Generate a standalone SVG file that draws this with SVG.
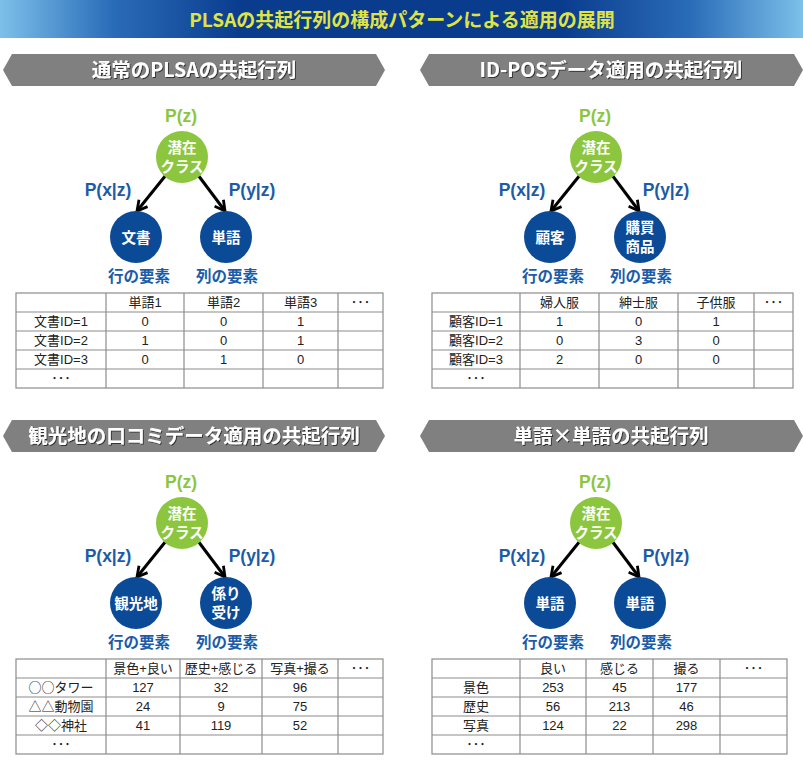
<svg xmlns="http://www.w3.org/2000/svg" width="803" height="762" viewBox="0 0 803 762">
<style>
.ttl{font-family:"Noto Sans CJK JP","Liberation Sans",sans-serif;font-weight:bold;font-size:19px;fill:#dfe345;text-anchor:middle;}
.hd{font-family:"Noto Sans CJK JP","Liberation Sans",sans-serif;font-weight:bold;font-size:19.5px;fill:#fff;text-anchor:middle;}
.hbar{fill:#808080;}
.pz{font-family:"Liberation Sans","Noto Sans CJK JP",sans-serif;font-weight:bold;font-size:17.5px;fill:#8cc63e;text-anchor:middle;}
.pc{font-family:"Liberation Sans","Noto Sans CJK JP",sans-serif;font-weight:bold;font-size:17.5px;fill:#1d5ba8;text-anchor:middle;}
.el{font-family:"Noto Sans CJK JP","Liberation Sans",sans-serif;font-weight:bold;font-size:15.5px;fill:#1d5ba8;text-anchor:middle;}
.nt{font-family:"Noto Sans CJK JP","Liberation Sans",sans-serif;font-weight:bold;font-size:14.5px;fill:#fff;text-anchor:middle;}
.gc{fill:#8cc63e;}
.bc{fill:#0b4a96;}
.cell{fill:#fff;stroke:#8c8c8c;stroke-width:1.2;}
.tx{font-family:"Liberation Sans","Noto Sans CJK JP",sans-serif;font-size:13px;fill:#222;text-anchor:middle;}
.tj{font-family:"Noto Sans CJK JP","Liberation Sans",sans-serif;font-size:13px;fill:#222;text-anchor:middle;}
.arr{stroke:#000;stroke-width:3;fill:none;marker-end:url(#ah);}
</style>
<defs>
<linearGradient id="tg" x1="0" y1="0" x2="1" y2="0">
<stop offset="0" stop-color="#7cc0ea"/>
<stop offset="0.14" stop-color="#2a6cb8"/>
<stop offset="0.3" stop-color="#0a3c8e"/>
<stop offset="0.7" stop-color="#0a3c8e"/>
<stop offset="0.86" stop-color="#2a6cb8"/>
<stop offset="1" stop-color="#7cc0ea"/>
</linearGradient>
<filter id="sh" x="-10%" y="-30%" width="120%" height="160%">
<feDropShadow dx="1" dy="1" stdDeviation="0.6" flood-color="#222" flood-opacity="0.8"/>
</filter>
<marker id="ah" viewBox="0 0 14 14" refX="12" refY="7" markerWidth="14" markerHeight="14" markerUnits="userSpaceOnUse" orient="auto">
<path d="M2,1.5 L12,7 L2,12.5" fill="none" stroke="#000" stroke-width="2.8" stroke-linejoin="miter"/>
</marker>
</defs>
<rect width="803" height="762" fill="#fff"/>

<g id="title">
<rect x="0" y="0" width="803" height="38" fill="url(#tg)"/>
<text class="ttl" x="402" y="27">PLSAの共起行列の構成パターンによる適用の展開</text>
</g>

<g id="headers">
<g id="hdr-tl"><polygon class="hbar" points="3,70 12,54 376,54 385,70 376,86 12,86"/><text class="hd" x="194" y="77" filter="url(#sh)">通常のPLSAの共起行列</text></g>
<g id="hdr-tr"><polygon class="hbar" points="420,70 429,54 794,54 803,70 794,86 429,86"/><text class="hd" x="611" y="77" filter="url(#sh)">ID-POSデータ適用の共起行列</text></g>
<g id="hdr-bl"><polygon class="hbar" points="3,436 12,420 376,420 385,436 376,452 12,452"/><text class="hd" x="194" y="443" filter="url(#sh)">観光地の口コミデータ適用の共起行列</text></g>
<g id="hdr-br"><polygon class="hbar" points="420,436 429,420 794,420 803,436 794,452 429,452"/><text class="hd" x="611" y="443" filter="url(#sh)">単語×単語の共起行列</text></g>
</g>

<g id="connectors">
<line class="arr" x1="166" y1="175" x2="137" y2="211"/>
<line class="arr" x1="198" y1="175" x2="225" y2="211"/>
<line class="arr" x1="580" y1="175" x2="551" y2="211"/>
<line class="arr" x1="612" y1="175" x2="639" y2="211"/>
<line class="arr" x1="166" y1="541" x2="137" y2="577"/>
<line class="arr" x1="198" y1="541" x2="225" y2="577"/>
<line class="arr" x1="580" y1="541" x2="551" y2="577"/>
<line class="arr" x1="612" y1="541" x2="639" y2="577"/>
</g>

<g id="tl-latent"><text class="pz" x="181" y="122">P(z)</text><circle class="gc" cx="182" cy="157" r="26"/><text class="nt" x="182" y="153">潜在</text><text class="nt" x="182" y="172">クラス</text></g>
<g id="tl-row"><circle class="bc" cx="136" cy="237" r="26"/><text class="nt" x="136" y="243">文書</text></g>
<g id="tl-col"><circle class="bc" cx="226" cy="237" r="26"/><text class="nt" x="226" y="243">単語</text></g>
<g id="tl-labels"><text class="pc" x="108" y="196">P(x|z)</text><text class="pc" x="252" y="196">P(y|z)</text><text class="el" x="139" y="282">行の要素</text><text class="el" x="227" y="282">列の要素</text></g>

<g id="tr-latent"><text class="pz" x="595" y="122">P(z)</text><circle class="gc" cx="596" cy="157" r="26"/><text class="nt" x="596" y="153">潜在</text><text class="nt" x="596" y="172">クラス</text></g>
<g id="tr-row"><circle class="bc" cx="550" cy="237" r="26"/><text class="nt" x="550" y="243">顧客</text></g>
<g id="tr-col"><circle class="bc" cx="640" cy="237" r="26"/><text class="nt" x="640" y="233">購買</text><text class="nt" x="640" y="252">商品</text></g>
<g id="tr-labels"><text class="pc" x="522" y="196">P(x|z)</text><text class="pc" x="666" y="196">P(y|z)</text><text class="el" x="553" y="282">行の要素</text><text class="el" x="641" y="282">列の要素</text></g>

<g id="bl-latent"><text class="pz" x="181" y="488">P(z)</text><circle class="gc" cx="182" cy="523" r="26"/><text class="nt" x="182" y="519">潜在</text><text class="nt" x="182" y="538">クラス</text></g>
<g id="bl-row"><circle class="bc" cx="136" cy="603" r="26"/><text class="nt" x="136" y="609">観光地</text></g>
<g id="bl-col"><circle class="bc" cx="226" cy="603" r="26"/><text class="nt" x="226" y="599">係り</text><text class="nt" x="226" y="618">受け</text></g>
<g id="bl-labels"><text class="pc" x="108" y="562">P(x|z)</text><text class="pc" x="252" y="562">P(y|z)</text><text class="el" x="139" y="648">行の要素</text><text class="el" x="227" y="648">列の要素</text></g>

<g id="br-latent"><text class="pz" x="595" y="488">P(z)</text><circle class="gc" cx="596" cy="523" r="26"/><text class="nt" x="596" y="519">潜在</text><text class="nt" x="596" y="538">クラス</text></g>
<g id="br-row"><circle class="bc" cx="550" cy="603" r="26"/><text class="nt" x="550" y="609">単語</text></g>
<g id="br-col"><circle class="bc" cx="640" cy="603" r="26"/><text class="nt" x="640" y="609">単語</text></g>
<g id="br-labels"><text class="pc" x="522" y="562">P(x|z)</text><text class="pc" x="666" y="562">P(y|z)</text><text class="el" x="553" y="648">行の要素</text><text class="el" x="641" y="648">列の要素</text></g>

<g id="table-tl">
<rect class="cell" x="16" y="293" width="367" height="95"/>
<g stroke="#8c8c8c" stroke-width="1.2">
<line x1="106" y1="293" x2="106" y2="388"/><line x1="184" y1="293" x2="184" y2="388"/><line x1="263" y1="293" x2="263" y2="388"/><line x1="338" y1="293" x2="338" y2="388"/>
<line x1="16" y1="312" x2="383" y2="312"/><line x1="16" y1="331" x2="383" y2="331"/><line x1="16" y1="350" x2="383" y2="350"/><line x1="16" y1="369" x2="383" y2="369"/>
</g>
<text class="tx" x="145" y="307">単語1</text><text class="tx" x="223.5" y="307">単語2</text><text class="tx" x="300.5" y="307">単語3</text><text class="tx" x="360.5" y="307">･･･</text>
<text class="tx" x="61" y="326">文書ID=1</text><text class="tx" x="145" y="326">0</text><text class="tx" x="223.5" y="326">0</text><text class="tx" x="300.5" y="326">1</text>
<text class="tx" x="61" y="345">文書ID=2</text><text class="tx" x="145" y="345">1</text><text class="tx" x="223.5" y="345">0</text><text class="tx" x="300.5" y="345">1</text>
<text class="tx" x="61" y="364">文書ID=3</text><text class="tx" x="145" y="364">0</text><text class="tx" x="223.5" y="364">1</text><text class="tx" x="300.5" y="364">0</text>
<text class="tx" x="61" y="383">･･･</text>
</g>

<g id="table-tr">
<rect class="cell" x="432" y="293" width="361" height="95"/>
<g stroke="#8c8c8c" stroke-width="1.2">
<line x1="520" y1="293" x2="520" y2="388"/><line x1="599" y1="293" x2="599" y2="388"/><line x1="678" y1="293" x2="678" y2="388"/><line x1="754" y1="293" x2="754" y2="388"/>
<line x1="432" y1="312" x2="793" y2="312"/><line x1="432" y1="331" x2="793" y2="331"/><line x1="432" y1="350" x2="793" y2="350"/><line x1="432" y1="369" x2="793" y2="369"/>
</g>
<text class="tx" x="559.5" y="307">婦人服</text><text class="tx" x="638.5" y="307">紳士服</text><text class="tx" x="716" y="307">子供服</text><text class="tx" x="773.5" y="307">･･･</text>
<text class="tx" x="476" y="326">顧客ID=1</text><text class="tx" x="559.5" y="326">1</text><text class="tx" x="638.5" y="326">0</text><text class="tx" x="716" y="326">1</text>
<text class="tx" x="476" y="345">顧客ID=2</text><text class="tx" x="559.5" y="345">0</text><text class="tx" x="638.5" y="345">3</text><text class="tx" x="716" y="345">0</text>
<text class="tx" x="476" y="364">顧客ID=3</text><text class="tx" x="559.5" y="364">2</text><text class="tx" x="638.5" y="364">0</text><text class="tx" x="716" y="364">0</text>
<text class="tx" x="476" y="383">･･･</text>
</g>

<g id="table-bl">
<rect class="cell" x="16" y="659" width="367" height="95"/>
<g stroke="#8c8c8c" stroke-width="1.2">
<line x1="106" y1="659" x2="106" y2="754"/><line x1="180" y1="659" x2="180" y2="754"/><line x1="262" y1="659" x2="262" y2="754"/><line x1="338" y1="659" x2="338" y2="754"/>
<line x1="16" y1="678" x2="383" y2="678"/><line x1="16" y1="697" x2="383" y2="697"/><line x1="16" y1="716" x2="383" y2="716"/><line x1="16" y1="735" x2="383" y2="735"/>
</g>
<text class="tx" x="143" y="673">景色+良い</text><text class="tx" x="221" y="673">歴史+感じる</text><text class="tx" x="300" y="673">写真+撮る</text><text class="tx" x="360.5" y="673">･･･</text>
<text class="tj" x="61" y="692">○○タワー</text><text class="tx" x="143" y="692">127</text><text class="tx" x="221" y="692">32</text><text class="tx" x="300" y="692">96</text>
<text class="tj" x="61" y="711">△△動物園</text><text class="tx" x="143" y="711">24</text><text class="tx" x="221" y="711">9</text><text class="tx" x="300" y="711">75</text>
<text class="tj" x="61" y="730">◇◇神社</text><text class="tx" x="143" y="730">41</text><text class="tx" x="221" y="730">119</text><text class="tx" x="300" y="730">52</text>
<text class="tx" x="61" y="749">･･･</text>
</g>

<g id="table-br">
<rect class="cell" x="432" y="659" width="355" height="95"/>
<g stroke="#8c8c8c" stroke-width="1.2">
<line x1="520" y1="659" x2="520" y2="754"/><line x1="586" y1="659" x2="586" y2="754"/><line x1="653" y1="659" x2="653" y2="754"/><line x1="720" y1="659" x2="720" y2="754"/>
<line x1="432" y1="678" x2="787" y2="678"/><line x1="432" y1="697" x2="787" y2="697"/><line x1="432" y1="716" x2="787" y2="716"/><line x1="432" y1="735" x2="787" y2="735"/>
</g>
<text class="tx" x="553" y="673">良い</text><text class="tx" x="619.5" y="673">感じる</text><text class="tx" x="686.5" y="673">撮る</text><text class="tx" x="753.5" y="673">･･･</text>
<text class="tx" x="476" y="692">景色</text><text class="tx" x="553" y="692">253</text><text class="tx" x="619.5" y="692">45</text><text class="tx" x="686.5" y="692">177</text>
<text class="tx" x="476" y="711">歴史</text><text class="tx" x="553" y="711">56</text><text class="tx" x="619.5" y="711">213</text><text class="tx" x="686.5" y="711">46</text>
<text class="tx" x="476" y="730">写真</text><text class="tx" x="553" y="730">124</text><text class="tx" x="619.5" y="730">22</text><text class="tx" x="686.5" y="730">298</text>
<text class="tx" x="476" y="749">･･･</text>
</g>
</svg>
